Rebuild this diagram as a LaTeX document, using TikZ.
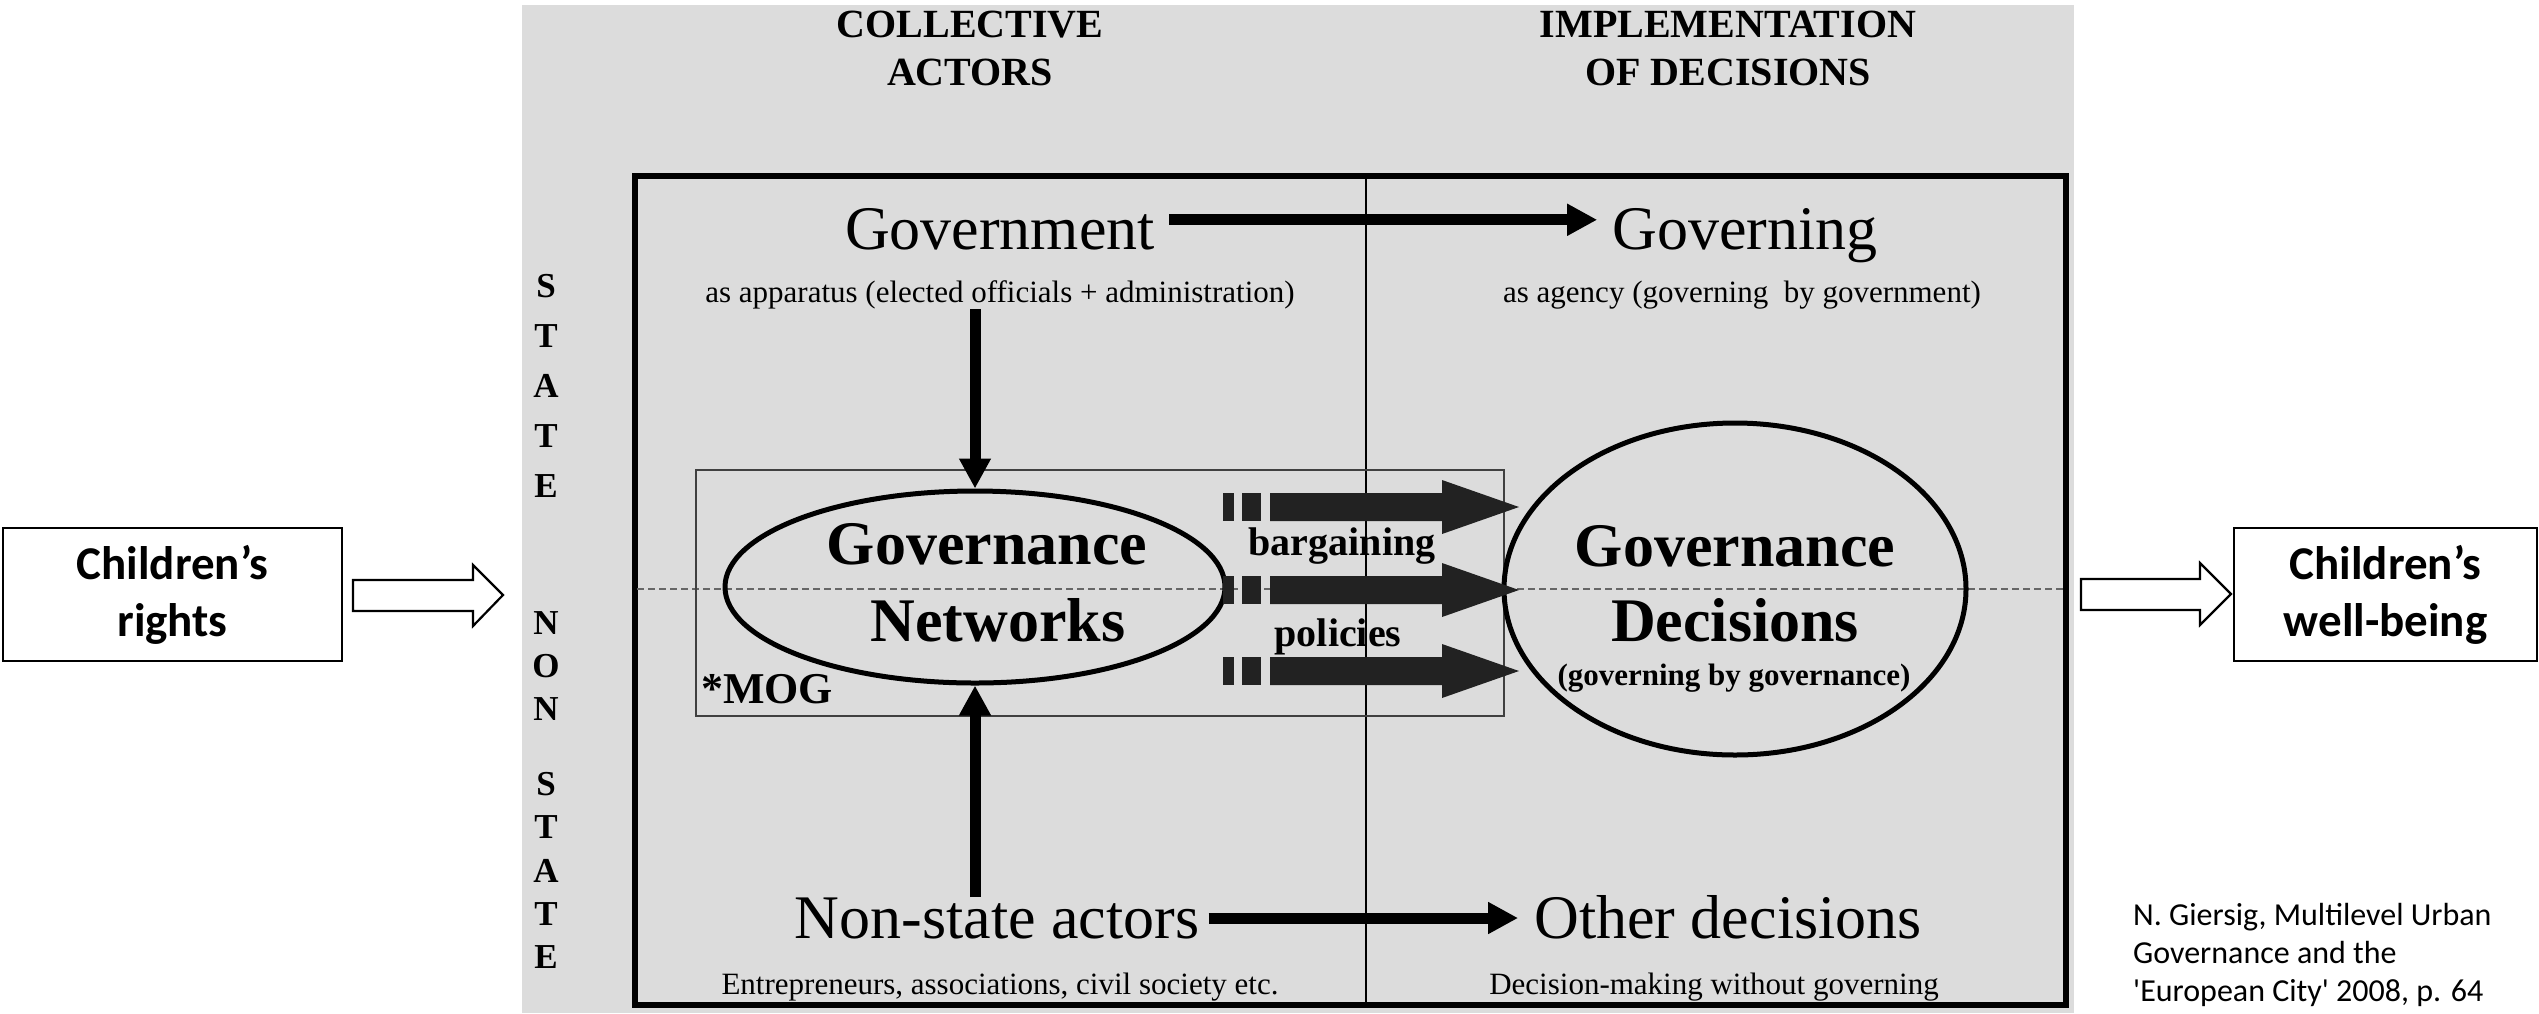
\documentclass[tikz,border=0pt]{standalone}
\usepackage{fontspec}
\setmainfont{Liberation Serif}
\newfontfamily\calibrifont{Carlito}
\usetikzlibrary{shapes.geometric,arrows.meta}
\definecolor{panelgray}{HTML}{DCDCDC}
\definecolor{blockdark}{HTML}{222222}
\definecolor{dashgray}{HTML}{666666}
\begin{document}
\begin{tikzpicture}[x=1pt,y=-1pt,
  txt/.style={inner sep=0pt, anchor=base},
  big/.style={txt, font=\fontsize{62}{70}\selectfont},
  bigb/.style={txt, font=\fontsize{62}{70}\selectfont\bfseries},
  small/.style={txt, font=\fontsize{31}{36}\selectfont},
  head/.style={txt, font=\fontsize{40}{48}\selectfont\bfseries},
  vlet/.style={inner sep=0pt, font=\fontsize{35}{40}\selectfont\bfseries},
  thickarr/.style={line width=11pt, -{Triangle[length=30pt,width=30pt]}},
  ovalnode/.style={draw, ellipse, line width=5pt, inner sep=0pt},
  sidebox/.style={draw, line width=2.5pt, inner sep=0pt, align=center,
    font=\calibrifont\bfseries\fontsize{47}{57}\selectfont},
  openarr/.style={draw, line width=2.2pt, fill=white, line join=miter},
  cite/.style={inner sep=0pt, anchor=base west, font=\calibrifont\fontsize{32}{38}\selectfont}
]
\useasboundingbox (0,0) rectangle (2539,1013);

% panel
\fill[panelgray] (522,5) rectangle (2074,1013);
\draw[line width=6pt] (635,176) rectangle (2066,1005);
\draw[line width=2pt] (1366,176) -- (1366,1005);
\draw[dashgray, line width=1.5pt, dash pattern=on 7pt off 4pt] (637,589) -- (2063,589);

% MOG box
\draw[line width=1.5pt, black!75] (696,470) rectangle (1504,716);

% headers
\node[head] (h1) at (970,37) {COLLECTIVE};
\node[head] (h2) at (970,85) {ACTORS};
\node[head] (h3) at (1728,37) {IMPLEMENTATION};
\node[head] (h4) at (1728,85) {OF DECISIONS};

% side letters
\foreach \l/\yy in {S/286,T/336,A/386,T/436,E/486,N/623,O/666,N/709,S/784,T/827,A/871,T/914,E/957}
  \node[vlet] (v\yy) at (546,\yy) {\l};

% top row
\node[big, inner xsep=14pt] (gov) at (1000,249) {Government};
\node[big, inner xsep=15pt] (gvg) at (1745,249) {Governing};
\node[small] (sub1) at (1000,302) {as apparatus (elected officials + administration)};
\node[small] (sub2) at (1742,302) {as agency (governing\ \ by government)};
\coordinate (ga) at ([yshift=9pt]gov.east);
\draw[thickarr] (ga) -- (ga -| gvg.west);

% ellipses
\node[ovalnode, minimum width=500pt, minimum height=192pt] (gn) at (975,587) {};
\node[bigb] (gn1) at (987,564) {Governance};
\node[bigb] (gn2) at (998,641) {Networks};
\node[ovalnode, minimum width=462pt, minimum height=332pt] (gd) at (1735,589) {};
\node[bigb] (gd1) at (1735,566) {Governance};
\node[bigb] (gd2) at (1735,641) {Decisions};
\node[txt, font=\fontsize{31}{36}\selectfont\bfseries] (gd3) at (1734,685) {(governing by governance)};
\node[txt, anchor=base west, font=\fontsize{44}{50}\selectfont\bfseries] (mog) at (701,703) {*MOG};

% block arrows
\foreach \c in {507,590,671}{
  \fill[blockdark] (1223,\c-14) rectangle (1234,\c+14);
  \fill[blockdark] (1242,\c-14) rectangle (1261,\c+14);
  \fill[blockdark] (1270,\c-14) -- (1442,\c-14) -- (1442,\c-27) -- (1519,\c)
     -- (1442,\c+27) -- (1442,\c+14) -- (1270,\c+14) -- cycle;
}
\node[txt, font=\fontsize{40}{46}\selectfont\bfseries] (barg) at (1342,555) {bargaining};
\node[txt, font=\fontsize{40}{46}\selectfont\bfseries] (pol) at (1338,646) {policies};

% bottom row
\node[big, inner xsep=9pt] (ns) at (997,938) {Non-state actors};
\node[big, inner xsep=16pt] (od) at (1728,938) {Other decisions};
\node[small] (sub3) at (1000,994) {Entrepreneurs, associations, civil society etc.};
\node[small] (sub4) at (1714,994) {Decision-making without governing};
\draw[thickarr] (ns.east) -- (ns.east -| od.west);

% vertical arrows
\draw[thickarr] (sub1.south -| gn.north) -- (gn.north);
\draw[thickarr] (ns.north -| gn.south) -- (gn.south);

% side boxes
\node[sidebox, minimum width=339pt, minimum height=133pt] (cr) at (172.5,594.5) {Children’s\\rights};
\node[sidebox, minimum width=303pt, minimum height=133pt] (cw) at (2385.5,594.5) {Children’s\\well-being};
\draw[openarr] (353,580) -- (473,580) -- (473,565) -- (503,595) -- (473,626) -- (473,611) -- (353,611) -- cycle;
\draw[openarr] (2081,579) -- (2200,579) -- (2200,563) -- (2231,594) -- (2200,625) -- (2200,610) -- (2081,610) -- cycle;

% citation
\node[cite] (c1) at (2133,925) {N. Giersig, Multilevel Urban};
\node[cite] (c2) at (2133,963) {Governance and the};
\node[cite] (c3) at (2133,1001) {\textquotesingle European City\textquotesingle{} 2008, p. 64};
\end{tikzpicture}
\end{document}
